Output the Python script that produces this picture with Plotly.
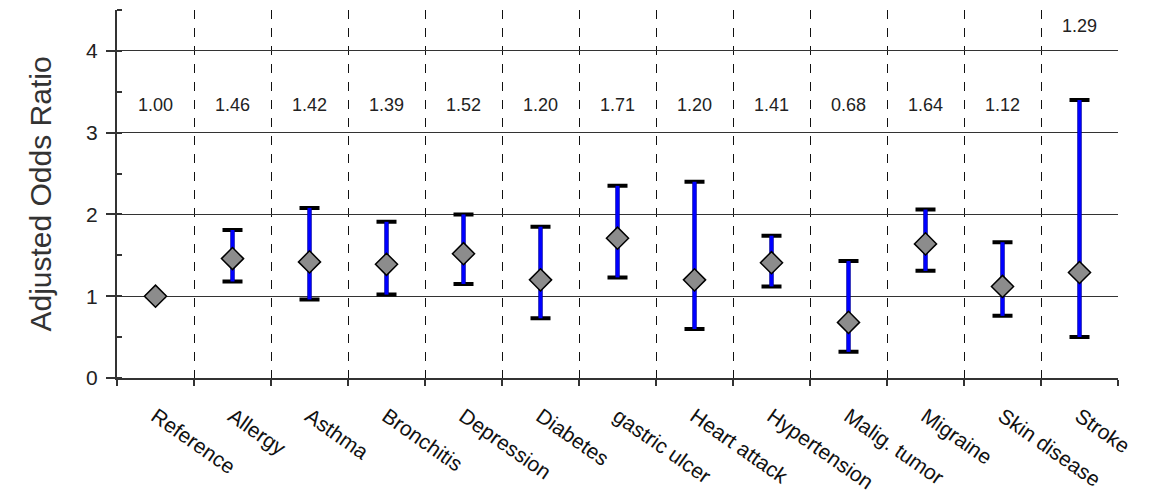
import plotly.graph_objects as go

categories = ["Reference", "Allergy", "Asthma", "Bronchitis", "Depression", "Diabetes",
              "gastric ulcer", "Heart attack", "Hypertension", "Malig. tumor", "Migraine",
              "Skin disease", "Stroke"]
odds = [1.00, 1.46, 1.42, 1.39, 1.52, 1.20, 1.71, 1.20, 1.41, 0.68, 1.64, 1.12, 1.29]
lower = [None, 1.18, 0.96, 1.02, 1.15, 0.73, 1.23, 0.60, 1.12, 0.32, 1.31, 0.76, 0.50]
upper = [None, 1.81, 2.08, 1.91, 2.00, 1.85, 2.35, 2.40, 1.74, 1.43, 2.06, 1.66, 3.40]
label_y = [3.32] * 12 + [4.29]

xs = list(range(len(categories)))
err_plus = [None if u is None else u - o for u, o in zip(upper, odds)]
err_minus = [None if l is None else o - l for l, o in zip(lower, odds)]

FONT = "Arial, Liberation Sans, sans-serif"

fig = go.Figure()
# black caps
fig.add_trace(go.Scatter(
    x=xs, y=odds, mode="markers", marker=dict(size=1, opacity=0), showlegend=False,
    error_y=dict(type="data", symmetric=False, array=err_plus, arrayminus=err_minus,
                 color="black", thickness=4, width=10)))
# blue bars
fig.add_trace(go.Scatter(
    x=xs, y=odds, mode="markers", marker=dict(size=1, opacity=0), showlegend=False,
    error_y=dict(type="data", symmetric=False, array=err_plus, arrayminus=err_minus,
                 color="#0000ff", thickness=4, width=0)))
# diamonds
fig.add_trace(go.Scatter(
    x=xs, y=odds, mode="markers", showlegend=False,
    marker=dict(symbol="diamond", size=17, color="#8c8c8c",
                line=dict(color="black", width=1.5))))
# value labels
fig.add_trace(go.Scatter(
    x=xs, y=label_y, mode="text", text=[f"{v:.2f}" for v in odds], showlegend=False,
    textfont=dict(family=FONT, size=18, color="#222222")))

fig.update_layout(
    width=1151, height=493,
    margin=dict(l=109, r=41, t=2, b=123),
    paper_bgcolor="white", plot_bgcolor="white",
    font=dict(family=FONT, color="#222222"),
    xaxis=dict(
        range=[-0.5, 12.5], tickvals=xs, ticktext=categories, tickangle=35,
        tickfont=dict(size=21, color="#111111"), ticks="", showgrid=False,
        showline=True, linecolor="#333333", linewidth=2, zeroline=False,
        ticklabelstandoff=16,
        minor=dict(tick0=0.5, dtick=1, showgrid=True, griddash="dash",
                   gridcolor="#111111", gridwidth=1, ticks="outside",
                   ticklen=6, tickcolor="#333333", tickwidth=1.5),
    ),
    yaxis=dict(
        range=[0, 4.5], tickvals=[0, 1, 2, 3, 4],
        tickfont=dict(size=21, color="#222222"),
        ticks="outside", ticklen=9, tickwidth=1.5, tickcolor="#333333",
        ticklabelstandoff=4,
        showgrid=True, gridcolor="#333333", gridwidth=1.2, zeroline=False,
        showline=True, linecolor="#333333", linewidth=2,
        title=dict(text="Adjusted Odds Ratio", font=dict(size=30, color="#333333"),
                   standoff=26),
        minor=dict(tick0=0, dtick=0.5, ticks="inside", ticklen=5,
                   tickcolor="#333333", tickwidth=1.5, showgrid=False),
    ),
)

fig.write_html("out.html")
